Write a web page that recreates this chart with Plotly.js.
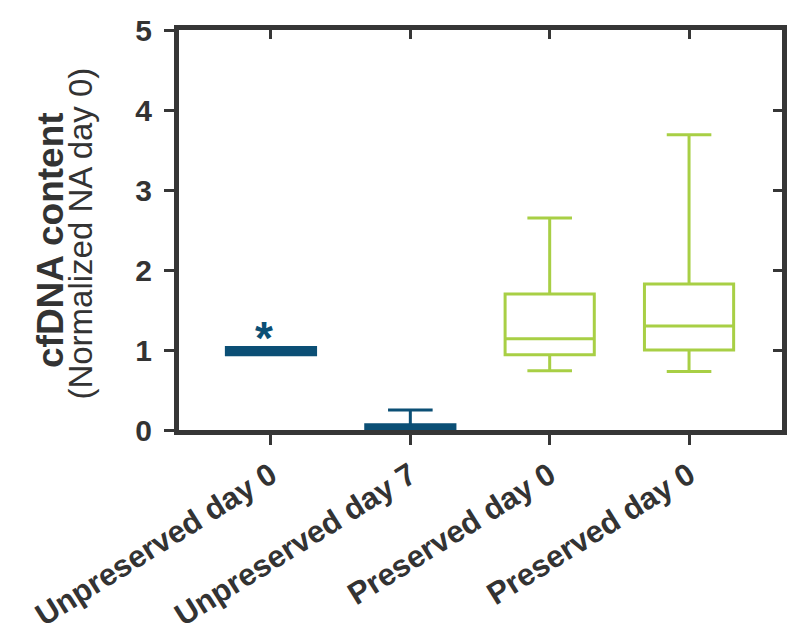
<!DOCTYPE html>
<html>
<head>
<meta charset="utf-8">
<script src="https://cdn.plot.ly/plotly-3.0.1.min.js"></script>
<style>html,body{margin:0;padding:0;background:#fff;}#chart{width:797px;height:633px;}</style>
</head>
<body>
<div id="chart"></div>
<script>
// ---- data ----
const tickLabels = ["Unpreserved day 0", "Unpreserved day 7", "Preserved day 0", "Preserved day 0"];
const positions = [0, 1, 2, 3];
const q1 = [0.94, 0.01, 0.94, 1.00];
const median = [0.98, 0.04, 1.14, 1.30];
const q3 = [1.03, 0.065, 1.70, 1.825];
const lowerFence = [0.94, 0.01, 0.74, 0.73];
const upperFence = [1.03, 0.25, 2.65, 3.69];
const significance = ["*", "", "", ""];
const yTicks = [0, 1, 2, 3, 4, 5];
const yTitleMain = "cfDNA content";
const yTitleSub = "(Normalized NA day 0)";

// ---- styles ----
const BLUE = "#0b4f75";
const GREEN = "#a8cf45";
const AXIS = "#363636";
const colors = [BLUE, BLUE, GREEN, GREEN];
const fills = [BLUE, BLUE, "rgba(255,255,255,0)", "rgba(255,255,255,0)"];
const FONT = "Liberation Sans, Arial, sans-serif";

const traces = positions.map((p, i) => ({
  type: "box",
  x: [p],
  q1: [q1[i]],
  median: [median[i]],
  q3: [q3[i]],
  lowerfence: [lowerFence[i]],
  upperfence: [upperFence[i]],
  width: 0.64,
  whiskerwidth: 0.5,
  boxpoints: false,
  line: {color: colors[i], width: 3},
  fillcolor: fills[i],
  hoverinfo: "skip",
  showlegend: false
}));
// helper trace for the mirrored (top/right) axes
traces.push({type: "scatter", x: [], y: [], xaxis: "x2", yaxis: "y2", showlegend: false, hoverinfo: "skip"});

const xRange = [-0.66, 3.667];
const yRange = [0, 5];

const annotations = significance.map((s, i) => s ? {
  x: positions[i], y: upperFence[i], xref: "x", yref: "y",
  text: s, showarrow: false, xshift: -7, yshift: 10,
  font: {family: FONT, size: 46, color: colors[i], weight: "bold"}
} : null).filter(a => a);

annotations.push({
  xref: "paper", yref: "paper", x: 0, y: 0.475, xanchor: "center", yanchor: "middle",
  xshift: -129, text: yTitleMain, textangle: -90, showarrow: false,
  font: {family: FONT, size: 37, color: "#333", weight: "bold"}
});
annotations.push({
  xref: "paper", yref: "paper", x: 0, y: 0.491, xanchor: "center", yanchor: "middle",
  xshift: -98, text: yTitleSub, textangle: -90, showarrow: false,
  font: {family: FONT, size: 33, color: "#333"}
});

const layout = {
  width: 797, height: 633,
  margin: {l: 179, r: 15, t: 30, b: 203, pad: 0},
  paper_bgcolor: "#fff", plot_bgcolor: "#fff",
  showlegend: false,
  font: {family: FONT, color: "#333"},
  xaxis: {
    range: xRange, tickmode: "array", tickvals: positions, ticktext: tickLabels,
    tickangle: -32, ticks: "outside", ticklen: 10, tickwidth: 3, tickcolor: AXIS,
    showline: true, linewidth: 5, linecolor: AXIS, showgrid: false, zeroline: false,
    tickfont: {family: FONT, size: 31, color: "#333", weight: "bold"}
  },
  yaxis: {
    range: yRange, tickmode: "array", tickvals: yTicks,
    ticks: "outside", ticklen: 10, tickwidth: 3, tickcolor: AXIS,
    showline: true, linewidth: 5, linecolor: AXIS, showgrid: false, zeroline: false,
    ticklabelstandoff: 6,
    tickfont: {family: FONT, size: 30, color: "#333", weight: "bold"}
  },
  xaxis2: {
    overlaying: "x", side: "top", anchor: "y2", range: xRange,
    tickmode: "array", tickvals: positions, ticks: "inside", ticklen: 9, tickwidth: 3, tickcolor: AXIS,
    showticklabels: false, showline: true, linewidth: 5, linecolor: AXIS, showgrid: false, zeroline: false
  },
  yaxis2: {
    overlaying: "y", side: "right", anchor: "x2", range: yRange,
    tickmode: "array", tickvals: yTicks, ticks: "inside", ticklen: 9, tickwidth: 3, tickcolor: AXIS,
    showticklabels: false, showline: true, linewidth: 5, linecolor: AXIS, showgrid: false, zeroline: false
  },
  annotations: annotations
};

Plotly.newPlot("chart", traces, layout, {staticPlot: true, displayModeBar: false});
</script>
</body>
</html>
